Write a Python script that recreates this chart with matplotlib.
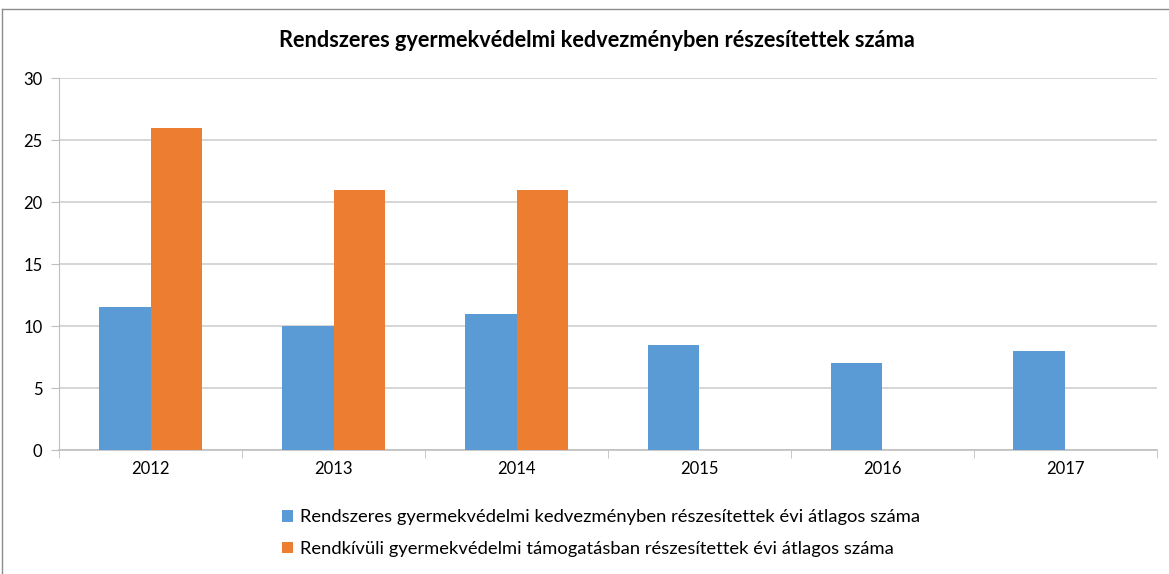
import numpy as np
import matplotlib
matplotlib.use("Agg")
import matplotlib.pyplot as plt
from matplotlib.lines import Line2D

evek = ["2012", "2013", "2014", "2015", "2016", "2017"]
rendszeres = [11.5, 10, 11, 8.5, 7, 8]
rendkivuli = [26, 21, 21, 0, 0, 0]
cimkek = ["Rendszeres gyermekvédelmi kedvezményben részesítettek évi átlagos száma",
          "Rendkívüli gyermekvédelmi támogatásban részesítettek évi átlagos száma"]

plt.rcParams['font.family'] = ['Lato', 'DejaVu Sans']

fig = plt.figure(figsize=(11.69, 5.74), dpi=100)
ax = fig.add_axes([0.0505, 0.216, 0.9392, 0.648])

x = np.arange(len(evek))
w = 0.284
ax.bar(x - w / 2, rendszeres, w, color='#5B9BD5', label=cimkek[0], zorder=3)
ax.bar(x + w / 2, rendkivuli, w, color='#ED7D31', label=cimkek[1], zorder=3)

ax.set_xlim(-0.5, len(evek) - 0.5)
ax.set_ylim(0, 30)
ax.set_yticks(range(0, 31, 5))
ax.set_xticks(x)
ax.set_xticklabels(evek)
ax.set_xticks(np.arange(-0.5, len(evek), 1), minor=True)
ax.tick_params(axis='x', which='major', length=0, pad=8, labelsize=12)
ax.tick_params(axis='x', which='minor', length=6, color='#bfbfbf')
ax.tick_params(axis='y', length=6, color='#bfbfbf', labelsize=12, pad=6)
ax.grid(axis='y', color='#d0d0d0', linewidth=1.2, zorder=0)
for s in ['top', 'right']:
    ax.spines[s].set_visible(False)
ax.spines['left'].set_color('#bfbfbf')
ax.spines['bottom'].set_color('#bfbfbf')
ax.spines['bottom'].set_linewidth(1.2)

fig.text(0.511, 0.93, "Rendszeres gyermekvédelmi kedvezményben részesítettek száma",
         ha='center', va='center', fontsize=15.7, fontweight='bold')

ax.legend(loc='upper left', bbox_to_anchor=(0.188, -0.115), frameon=False,
          fontsize=13.2, handlelength=0.6, handleheight=0.6, handletextpad=0.4,
          labelspacing=0.85)

fig.add_artist(Line2D([0.002, 0.002], [0, 0.985], color='#8c8c8c', lw=1))
fig.add_artist(Line2D([0.002, 1], [0.985, 0.985], color='#8c8c8c', lw=1))

fig.savefig("out.png", dpi=100)
